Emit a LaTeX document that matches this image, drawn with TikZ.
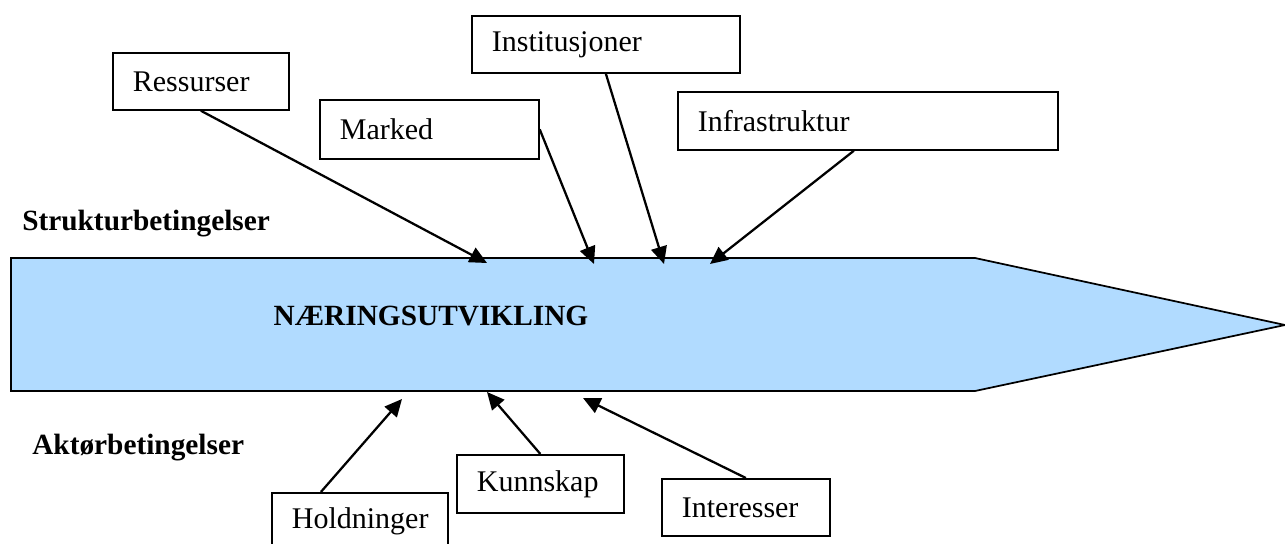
\documentclass[tikz,border=0pt]{standalone}
\usepackage{fontspec}
\setmainfont{Liberation Serif}
\usetikzlibrary{arrows.meta}
\definecolor{bandblue}{RGB}{177,219,255}
\tikzset{
  bx/.style={draw, line width=1.3pt, anchor=north west, inner xsep=15pt, inner ysep=0pt, align=left,
    font=\fontsize{22.5}{27}\selectfont},
  lbl/.style={font=\fontsize{22}{26}\selectfont\bfseries, inner sep=0pt},
  conn/.style={line width=1.7pt, -{Triangle[length=13pt,width=12pt]}}
}
\begin{document}
\begin{tikzpicture}[x=0.75pt,y=-0.75pt]
\clip (0,0) rectangle (1285,543);
% band
\draw[fill=bandblue, line width=1.3pt] (11,258) -- (975,258) -- (1285,325) -- (975,391) -- (11,391) -- cycle;
\node[lbl, anchor=base] (main) at (431,325) {NÆRINGSUTVIKLING};
\node[lbl, anchor=base west] (struk) at (22,230) {Strukturbetingelser};
\node[lbl, anchor=base west] (akt) at (32,454) {Aktørbetingelser};
% boxes
\node[bx, minimum width=132pt, text width=102pt, minimum height=42.75pt] (res) at (112,52) {Ressurser};
\node[bx, minimum width=164.25pt, text width=134.25pt, minimum height=44.25pt] (mar) at (319,99) {Marked};
\node[bx, minimum width=201pt, text width=171pt, minimum height=42.75pt] (ins) at (471,15) {Institusjoner};
\node[bx, minimum width=285pt, text width=255pt, minimum height=43.5pt] (inf) at (677,91) {Infrastruktur};
\node[bx, minimum width=132pt, text width=102pt, minimum height=42.75pt] (hol) at (271,492) {Holdninger};
\node[bx, minimum width=125.25pt, text width=95.25pt, minimum height=43.5pt] (kun) at (456,454) {Kunnskap};
\node[bx, minimum width=126pt, text width=96pt, minimum height=42.75pt] (int) at (661,478) {Interesser};
% targets
\coordinate (t1) at (487,263);
\coordinate (t2) at (594,264);
\coordinate (t3) at (664,264);
\coordinate (t4) at (710,264);
\coordinate (b1) at (402,399);
\coordinate (b2) at (487,392);
\coordinate (b3) at (583,398);
% connectors
\draw[conn] (res.south) -- (t1);
\draw[conn] (mar.east) -- (t2);
\draw[conn] (ins.south) -- (t3);
\draw[conn] ([xshift=-10.5pt]inf.south) -- (t4);
\draw[conn] ([xshift=-29.25pt]hol.north) -- (b1);
\draw[conn] (kun.north) -- (b2);
\draw[conn] (int.north) -- (b3);
\end{tikzpicture}
\end{document}
